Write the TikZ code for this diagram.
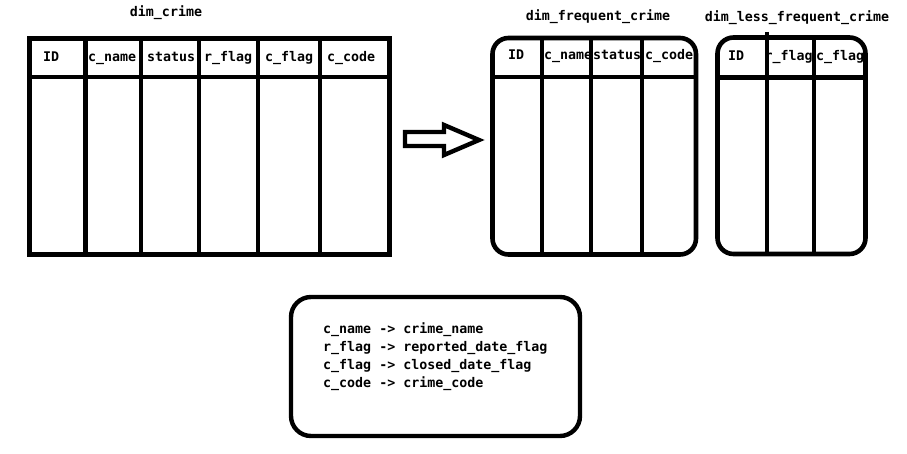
\documentclass[tikz,border=0pt]{standalone}
\usepackage{fontspec}
\setmonofont{DejaVu Sans Mono}
\begin{document}
\begin{tikzpicture}[x=1pt,y=-1pt,
  tbl/.style={line width=4.6pt},
  lbl/.style={inner sep=0pt,anchor=base west,font=\ttfamily\bfseries\fontsize{13.3}{15}\selectfont},
  ttl/.style={inner sep=0pt,anchor=base,font=\ttfamily\bfseries\fontsize{13.3}{15}\selectfont},
  maptxt/.style={inner sep=0pt,anchor=base west,align=left,font=\ttfamily\bfseries\fontsize{13.3}{18}\selectfont}]
\useasboundingbox[fill=white] (0,0) rectangle (907,454);
\newcommand{\hcell}[7]{%
  \begin{scope}\clip (#2,36) rectangle (#3,79);
  \node[lbl] (#1) at (#4,#5) {#6\vphantom{#7}};\end{scope}}
% ---- dim_crime ----
\node[ttl] (t1) at (166,17) {dim\_crime};
\hcell{a1}{28}{85.5}{43}{62}{ID}{}
\hcell{a2}{85.5}{141}{88}{62}{c\_name}{}
\hcell{a3}{141}{199}{147}{62}{status}{}
\hcell{a4}{199}{258}{204}{62}{r\_flag}{}
\hcell{a5}{258}{320}{265}{62}{c\_flag}{}
\hcell{a6}{320}{390}{327}{62}{c\_code}{}
\draw[tbl] (29.5,38.5) rectangle (389.5,254.5);
\draw[tbl] (29.5,77) -- (389.5,77);
\foreach \x in {85.5,141,199,258,320} \draw[tbl] (\x,38.5) -- (\x,254.5);
% ---- arrow ----
\draw[line width=4.4pt,line join=miter] (405,132) -- (444,132) -- (444,125) -- (479,140) -- (444,155) -- (444,146) -- (405,146) -- cycle;
% ---- dim_frequent_crime ----
\node[ttl] (t2) at (598,20.5) {dim\_frequent\_crime};
\hcell{b1}{492}{542}{508}{60}{ID}{}
\hcell{b2}{542}{591}{544}{60}{c\_name}{}
\hcell{b3}{591}{642}{593}{60}{status}{}
\hcell{b4}{642}{696}{645}{60}{c\_code}{}
\draw[tbl,rounded corners=16pt] (492.5,38) rectangle (696,254.5);
\draw[tbl] (492.5,77) -- (696,77);
\foreach \x in {542,591,642} \draw[tbl] (\x,38) -- (\x,254.5);
% ---- dim_less_frequent_crime ----
\node[ttl] (t3) at (797,21.5) {dim\_less\_frequent\_crime};
\hcell{c1}{717}{767}{728}{61}{ID}{}
\hcell{c2}{767}{814}{764.5}{61}{r\_flag}{}
\hcell{c3}{814}{865}{816}{61}{c\_flag}{}
\draw[tbl,rounded corners=16pt] (717.5,37.5) rectangle (865.5,254);
\draw[tbl] (717.5,77.5) -- (865.5,77.5);
\draw[tbl] (767,32) -- (767,254);
\draw[tbl] (814,37.5) -- (814,254);
% ---- mapping box ----
\draw[line width=4.4pt,rounded corners=20pt] (291,297) rectangle (580,436);
\node[maptxt] (m1) at (323,333) {c\_name -> crime\_name};
\node[maptxt] (m2) at (323,351) {r\_flag -> reported\_date\_flag};
\node[maptxt] (m3) at (323,369) {c\_flag -> closed\_date\_flag};
\node[maptxt] (m4) at (323,387) {c\_code -> crime\_code};
\end{tikzpicture}
\end{document}
